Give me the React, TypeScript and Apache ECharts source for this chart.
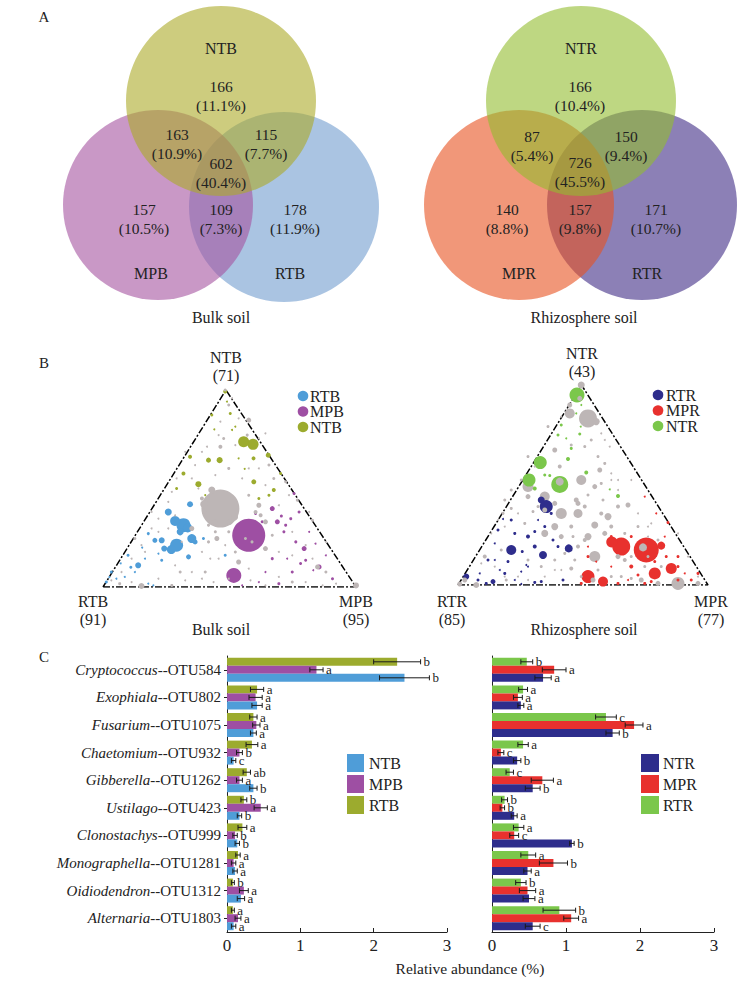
import React, { useEffect, useRef } from 'react';
import * as echarts from 'echarts';

const FONT = "'Liberation Serif', 'Times New Roman', Times, serif";
const INK = '#222';

// ---------- Panel A : Venn ----------
const bulkVennSets = ['NTB', 'MPB', 'RTB'];
const bulkVennCounts = [166, 163, 115, 602, 157, 109, 178];
const bulkVennPcts = ['11.1%', '10.9%', '7.7%', '40.4%', '10.5%', '7.3%', '11.9%'];
const rhizoVennSets = ['NTR', 'MPR', 'RTR'];
const rhizoVennCounts = [166, 87, 150, 726, 140, 157, 171];
const rhizoVennPcts = ['10.4%', '5.4%', '9.4%', '45.5%', '8.8%', '9.8%', '10.7%'];

// ---------- Panel B : ternary ----------
const bulkCorners = ['NTB', 'RTB', 'MPB'];
const bulkCornerN = [71, 91, 95];
const rhizoCorners = ['NTR', 'RTR', 'MPR'];
const rhizoCornerN = [43, 85, 77];
const bulkTriangle = [[0, 0], [100, 0], [48.6, 100], [0, 0]];
const rhizoTriangle = [[0, 0], [100, 0], [49.4, 100], [0, 0]];

// [x%, y%, size]
const bulkPtsRTB = [[31.8,31.4,14],[28.5,33.5,10],[33.5,30.0,9],[29.1,21.2,13],[27.0,19.0,9],[35.1,24.6,9],[25.8,38.1,7],[34.4,42.0,6],[23.2,23.7,6],[20.5,23.7,5],[24.2,19.5,6],[33.8,15.3,5],[13.9,11.0,6],[36.4,22.9,5],[30.5,28.0,7],[27.8,33.1,4],[17.9,27.1,3],[9.9,16.1,3],[3.3,7.6,3],[1.3,2.5,3],[8.6,5.1,2],[17.9,1.7,2],[19.9,0.8,2],[5.3,4.2,2],[12.6,7.6,2],[23.2,13.6,3],[48.3,16.1,3],[39.7,24.6,3],[16.6,14.4,2],[21.9,16.9,2],[11.0,10.0,3],[15.5,20.0,2],[7.0,12.0,2],[2.5,5.0,2]];
const bulkPtsMPB = [[57.6,26.3,33],[51.7,5.9,15],[66.9,39.8,5],[68.9,33.1,5],[72.2,31.4,3],[76.2,22.9,3],[79.5,19.5,5],[80.1,13.6,3],[85.4,10.2,5],[78.1,11.9,3],[74.8,7.6,3],[69.5,1.7,3],[61.6,2.5,2],[55.0,0.8,2],[90.7,4.2,3],[88.1,16.1,2],[75.5,47.5,3],[77.5,38.1,3],[71.5,28.0,3],[74.2,34.7,3],[62.9,33.1,3],[60.3,37.3,3],[81.5,28.0,2],[66.9,14.4,3],[72.8,14.4,2],[64.2,7.6,2],[83.1,8.5,2],[70.5,36.0,3],[84.0,22.0,2]];
const bulkPtsNTB = [[55.6,73.7,11],[59.3,72.4,11],[46.1,64.4,6],[41.7,64.4,5],[37.7,52.2,6],[34.4,66.1,4],[31.8,57.6,4],[59.5,65.3,4],[59.6,53.4,5],[67.5,49.2,4],[65.6,46.6,3],[65.3,66.9,5],[70.2,57.6,3],[48.3,99.2,4],[50.3,88.1,3],[53.6,65.3,2],[43.0,87.3,3],[51.0,79.7,2],[52.3,81.4,2],[49.0,94.1,2],[29.1,50.0,3],[40.4,46.6,2],[61.6,44.9,3],[44.0,80.0,2],[56.0,60.0,2]];
const bulkPtsOther = [[46.4,39.8,38],[40.0,42.0,8],[52.0,35.5,7],[44.0,33.0,6],[50.0,33.0,6],[100,0.8,6],[15.2,0.5,6],[6.6,1.7,3],[57.6,84.7,5],[48.3,100,3],[46.4,71.2,4],[43.0,49.2,7],[39.1,44.9,4],[45.0,24.6,5],[53.6,12.7,5],[64.2,19.5,5],[64.2,33.1,5],[60.3,38.1,4],[65.6,61.9,3],[72.2,53.4,3],[82.8,33.9,3],[84.8,10.2,5],[66.9,26.3,3],[12.6,24.6,3],[35.1,29.7,5],[41.7,22.9,3],[30.5,7.6,3],[27.2,0.8,3],[39.1,4.2,2],[49.7,28.0,3],[56.3,24.6,3],[58.9,22.9,3],[52.3,17.8,3],[74.8,2.5,3],[86.8,0.8,2],[88.1,7.6,3],[32.5,68.6,2],[39.1,68.6,2],[49.7,92.4,3],[45.7,77.1,2],[27.2,48.3,2],[21.9,34.7,2],[15.2,21.2,2],[69.5,41.5,2],[74.8,28.0,2],[80.1,21.2,2],[28.5,11.0,2],[42.4,14.4,2],[57.6,9.3,2],[51.0,44.9,3],[55.0,55.1,2],[61.6,60.2,2],[44.4,56.8,2],[35.1,7.6,2],[64.2,0.8,2],[52.3,72.0,2],[64.2,78.0,2],[19.2,29.7,2],[40.4,7.6,3],
  [51.0,95.8,2],[46.4,83.9,2],[53.6,85.6,2],[57.0,77.1,3],[61.6,75.4,2],[47.7,75.4,3],[41.1,71.2,2],[36.4,61.9,2],[49.7,60.2,3],[57.6,60.2,2],[67.5,55.1,3],[64.2,51.7,2],[73.5,46.6,2],[76.8,44.1,3],[57.6,46.6,3],[61.6,41.5,5],[62.3,36.4,4],[25.8,29.7,2],[21.9,28.0,2],[16.6,17.8,2],[11.3,14.4,2],[7.3,7.6,2],[3.3,3.4,2],[11.3,2.5,2],[21.9,4.2,2],[32.5,3.4,2],[43.7,2.5,2],[49.7,4.2,2],[58.3,3.4,2],[69.5,5.1,2],[80.1,2.5,2],[92.1,1.7,2],[88.1,22.9,2],[81.5,38.1,2],[82.8,14.4,2],[69.5,17.8,2],[74.8,16.1,2],[45.7,14.4,2],[39.1,17.8,2],[31.1,22.9,2],[41.7,31.4,3],[44.4,28.0,3],[48.3,21.2,2],[40.4,38.1,3],[37.7,50.0,2],[35.1,55.1,2],[29.1,55.1,2],[25.8,43.2,2],[19.2,38.1,2],[28.5,36.4,2]];

const rhizoPtsRTR = [[35.3,39.2,13],[33.3,42.5,7],[21.3,17.5,10],[34.0,15.0,8],[44.3,18.3,8],[28.0,24.2,4],[25.7,16.7,3],[30.7,19.2,4],[3.3,4.2,6],[14.0,1.7,5],[11.3,0.8,3],[33.3,1.7,3],[30.7,1.3,3],[25.3,0.5,2],[21.3,32.5,3],[16.0,27.5,3],[14.7,20.8,2],[20.0,11.7,3],[12.0,12.5,3],[16.7,7.5,2],[27.3,10.0,2],[38.0,22.5,3],[30.7,26.7,3],[42.0,2.5,3],[37.3,35.8,3],[8.0,2.5,3],[8.7,5.8,2],[32.0,32.5,2],[25.3,6.7,2],[22.7,25.8,3],[14.7,12.5,2],[18.7,5.8,3],[22.7,2.5,2],[28.0,9.2,2],[34.7,29.2,3],[40.0,19.2,3],[18.0,33.0,2]];
const rhizoPtsMPR = [[75.3,17.5,25],[65.3,19.2,18],[61.5,21.5,11],[81.3,19.7,8],[52.0,4.2,13],[58.0,1.7,10],[78.7,5.8,12],[85.3,8.3,11],[69.3,9.2,4],[72.0,5.0,3],[78.7,11.7,3],[83.3,14.2,3],[88.0,14.2,3],[96.0,5.8,3],[93.3,2.5,3],[84.0,31.2,3],[74.7,44.2,2],[79.3,35.8,2],[52.0,14.2,3],[49.3,0.8,3],[64.0,0.8,3],[74.7,0.8,3],[88.0,2.5,3],[82.7,24.2,2],[68.0,2.5,2],[61.3,9.2,2],[55.3,11.7,2],[77.3,1.7,3],[61.3,24.2,3],[69.3,24.2,3],[88.0,9.2,3],[90.7,5.8,2],[52.0,19.2,2]];
const rhizoPtsNTR = [[47.6,95.0,15],[32.9,61.2,13],[28.4,52.5,13],[40.7,50.3,17],[30.7,48.3,4],[44.0,63.0,4],[34.7,55.0,3],[36.7,54.7,3],[51.3,56.2,4],[64.0,44.5,4],[60.7,47.8,2],[45.3,68.3,3],[48.7,75.5,3],[41.3,80.0,3],[40.0,75.0,3],[49.1,79.2,2],[47.3,85.8,2],[43.3,73.3,2],[49.3,90.0,2]];
const rhizoPtsOther = [[49.3,100,7],[52.0,83.3,18],[44.7,85.8,10],[55.3,81.7,7],[44.7,90.0,5],[48.7,93.3,5],[38.7,67.5,5],[40.7,51.7,8],[28.0,49.2,11],[34.7,44.2,10],[41.3,35.8,11],[48.0,35.8,9],[49.3,52.5,10],[56.7,57.5,5],[60.0,34.2,7],[64.0,39.2,4],[68.0,40.0,5],[54.7,30.0,7],[52.0,24.2,7],[38.7,29.2,7],[34.7,25.8,7],[41.3,24.2,5],[54.7,14.2,11],[64.0,14.2,5],[45.3,8.3,4],[33.3,9.2,3],[19.3,2.5,3],[7.3,0,6],[0.7,0.5,5],[2.7,2.5,5],[10.7,14.2,4],[17.3,17.5,3],[18.0,35.8,3],[21.3,38.3,3],[26.7,30.8,3],[88.0,0.8,13],[96.0,0.8,5],[80.0,0.8,5],[73.3,2.5,5],[74.0,18.8,8],[54.0,2.5,5],[76.0,14.2,3],[69.3,14.2,3],[58.0,42.5,3],[52.0,45.0,3],[56.0,64.2,3],[60.7,69.2,2],[50.7,69.2,3],[45.3,70.0,3],[34.7,37.5,5],[30.0,36.7,3],[46.0,24.2,3],[28.0,12.5,3],[38.7,12.5,3],[28.0,64.2,3],[40.7,59.2,4],[36.0,79.2,3],[66.7,25.8,3],[72.0,29.2,3],[48.0,40.8,5],[45.3,29.2,4],[81.3,9.2,3],[65.3,4.2,3],[18.7,4.2,2],[16.0,32.5,2],[58.7,72.5,2],[61.3,52.5,2],[76.0,24.2,2],[41.3,7.5,2],
  [41.3,84.2,2],[57.3,75.8,2],[53.3,72.5,3],[58.7,60.8,3],[61.3,55.8,2],[64.0,52.5,2],[54.7,49.2,5],[57.3,50.8,3],[64.0,47.5,2],[69.3,52.5,2],[47.3,42.5,5],[50.7,39.2,4],[57.3,35.8,4],[61.3,29.2,4],[58.7,25.8,5],[50.7,22.5,4],[48.0,19.2,4],[42.7,15.8,3],[38.7,7.5,2],[34.7,4.2,2],[28.0,2.5,2],[24.0,4.2,2],[14.7,9.2,2],[9.3,10.8,2],[13.3,25.8,2],[18.7,29.2,2],[24.0,35.8,2],[28.0,44.2,5],[25.3,52.5,3],[30.7,59.2,2],[38.7,40.8,5],[32.0,39.2,3],[77.3,30.8,2],[88.0,25.8,2],[92.0,14.2,2],[96.0,4.2,2],[69.3,3.3,3],[61.3,4.2,3],[49.3,4.2,3],[46.7,12.5,3],[56.0,7.5,3],[74.7,9.2,3],[66.7,12.5,4],[80.0,22.5,3],[76.0,29.2,2],[72.0,35.8,2],[21.3,47.5,3],[18.7,42.5,3]];

// ---------- Panel C : bars ----------
const categories = ['Cryptococcus--OTU584', 'Exophiala--OTU802', 'Fusarium--OTU1075', 'Chaetomium--OTU932', 'Gibberella--OTU1262', 'Ustilago--OTU423', 'Clonostachys--OTU999', 'Monographella--OTU1281', 'Oidiodendron--OTU1312', 'Alternaria--OTU1803'];
const xTicks = [0, 1, 2, 3];
const xTitle = 'Relative abundance (%)';

const bulkRTB = [2.32, 0.41, 0.36, 0.34, 0.27, 0.23, 0.21, 0.15, 0.08, 0.08];
const bulkRTBErr = [0.32, 0.09, 0.05, 0.08, 0.05, 0.04, 0.06, 0.03, 0.02, 0.02];
const bulkRTBSig = ['b', 'a', 'a', 'a', 'ab', 'b', 'a', 'a', 'b', 'a'];
const bulkMPB = [1.22, 0.39, 0.40, 0.17, 0.17, 0.46, 0.11, 0.09, 0.23, 0.15];
const bulkMPBErr = [0.09, 0.09, 0.05, 0.04, 0.04, 0.09, 0.03, 0.03, 0.06, 0.04];
const bulkMPBSig = ['a', 'a', 'a', 'b', 'a', 'a', 'b', 'a', 'a', 'a'];
const bulkNTB = [2.42, 0.41, 0.36, 0.09, 0.36, 0.17, 0.14, 0.11, 0.19, 0.09];
const bulkNTBErr = [0.34, 0.07, 0.04, 0.03, 0.05, 0.03, 0.03, 0.03, 0.05, 0.03];
const bulkNTBSig = ['b', 'a', 'a', 'c', 'b', 'b', 'b', 'a', 'a', 'a'];

const rhizoRTR = [0.47, 0.42, 1.54, 0.42, 0.24, 0.17, 0.36, 0.49, 0.39, 0.91];
const rhizoRTRErr = [0.08, 0.06, 0.14, 0.07, 0.05, 0.04, 0.07, 0.10, 0.07, 0.22];
const rhizoRTRSig = ['b', 'a', 'c', 'a', 'c', 'b', 'a', 'a', 'b', 'b'];
const rhizoMPR = [0.84, 0.35, 1.92, 0.12, 0.68, 0.14, 0.30, 0.83, 0.48, 1.07];
const rhizoMPRErr = [0.16, 0.06, 0.12, 0.04, 0.15, 0.03, 0.06, 0.19, 0.11, 0.10];
const rhizoMPRSig = ['a', 'a', 'a', 'c', 'a', 'b', 'c', 'b', 'a', 'a'];
const rhizoNTR = [0.69, 0.39, 1.63, 0.34, 0.55, 0.30, 1.08, 0.48, 0.50, 0.55];
const rhizoNTRErr = [0.11, 0.04, 0.09, 0.05, 0.10, 0.04, 0.03, 0.05, 0.08, 0.10];
const rhizoNTRSig = ['a', 'a', 'b', 'b', 'b', 'a', 'b', 'a', 'a', 'c'];

// ---------- colours ----------
const C_BLUE = '#4f9dd8';
const C_PURPLE = '#9e4fa3';
const C_OLIVE = '#9cab2e';
const C_NAVY = '#2e2d8c';
const C_RED = '#e8312e';
const C_GREEN = '#7bc74b';
const C_GRAY = '#bdb6b6';

const BAR_W = 8;

function txt(text: string, x: number, y: number, size = 15, align = 'center', extra: any = {}) {
  return {
    type: 'text', x, y, z: 50,
    style: { text, fontSize: size, fontFamily: FONT, fill: INK, align, verticalAlign: 'middle', ...extra },
  };
}

function vennGraphics(sets: string[], counts: number[], pcts: string[], circles: number[][], fills: string[], regionPos: number[][], setLabelPos: number[][], title: string, titlePos: number[]) {
  const g: any[] = [];
  [2, 1, 0].forEach((i) => {
    g.push({ type: 'circle', z: 1, shape: { cx: circles[i][0], cy: circles[i][1], r: circles[i][2] }, style: { fill: fills[i] } });
  });
  sets.forEach((s, i) => g.push(txt(s, setLabelPos[i][0], setLabelPos[i][1], 16)));
  counts.forEach((c, i) => {
    g.push(txt(String(c), regionPos[i][0], regionPos[i][1], 15.5));
    g.push(txt('(' + pcts[i] + ')', regionPos[i][0], regionPos[i][1] + 19, 15.5));
  });
  g.push(txt(title, titlePos[0], titlePos[1], 16));
  return g;
}

function errSeries(vals: number[], errs: number[], sig: string[], k: number, axis: number) {
  return {
    type: 'custom', xAxisIndex: axis, yAxisIndex: axis, z: 5, clip: false, silent: true,
    data: vals.map((v, i) => [v, i, errs[i]]),
    renderItem: (params: any, api: any) => {
      const v = api.value(0), c = api.value(1), e = api.value(2);
      const a = api.coord([v - e, c]);
      const b = api.coord([v + e, c]);
      const y = a[1] + (k - 1) * BAR_W;
      const h = 2.5;
      const st = { stroke: '#1a1a1a', lineWidth: 1 };
      return {
        type: 'group',
        children: [
          { type: 'line', shape: { x1: a[0], y1: y, x2: b[0], y2: y }, style: st },
          { type: 'line', shape: { x1: a[0], y1: y - h, x2: a[0], y2: y + h }, style: st },
          { type: 'line', shape: { x1: b[0], y1: y - h, x2: b[0], y2: y + h }, style: st },
          { type: 'text', x: b[0] + 3, y: y, style: { text: sig[params.dataIndex], fontSize: 13, fontFamily: FONT, fill: INK, align: 'left', verticalAlign: 'middle' } },
        ],
      };
    },
  };
}

function scatter(name: string, data: number[][], color: string, axis: number, z: number) {
  return {
    type: 'scatter', name, xAxisIndex: axis, yAxisIndex: axis, data, z, silent: true,
    symbolSize: (d: number[]) => d[2],
    itemStyle: { color, opacity: 1 },
  };
}

export default function App() {
  const ref = useRef<HTMLDivElement>(null);
  useEffect(() => {
    if (!ref.current) return;
    const chart = echarts.init(ref.current, undefined, { renderer: 'svg' });

    const graphic: any[] = [];
    graphic.push(txt('A', 44, 17), txt('B', 44, 363), txt('C', 44, 657));

    graphic.push(...vennGraphics(bulkVennSets, bulkVennCounts, bulkVennPcts,
      [[221, 101, 95], [158, 205, 95], [284, 207, 95]],
      ['rgba(172,170,40,0.6)', 'rgba(165,83,160,0.6)', 'rgba(113,157,207,0.6)'],
      [[221, 86], [177, 134], [266, 134], [221, 163], [144, 209], [221, 209], [295, 209]],
      [[221, 48], [151, 273], [290, 273]], 'Bulk soil', [221, 317]));
    graphic.push(...vennGraphics(rhizoVennSets, rhizoVennCounts, rhizoVennPcts,
      [[581, 101, 95], [519, 205, 95], [642, 205, 95]],
      ['rgba(147,188,47,0.6)', 'rgba(232,82,32,0.6)', 'rgba(63,43,133,0.6)'],
      [[580, 86], [532, 136], [626, 136], [580, 162], [507, 209], [580, 209], [656, 209]],
      [[581, 48], [519, 273], [647, 273]], 'Rhizosphere soil', [584, 317]));

    const bPos = [[226, 357], [93, 601], [356, 601]];
    bulkCorners.forEach((s, i) => {
      graphic.push(txt(s, bPos[i][0], bPos[i][1], 16), txt('(' + bulkCornerN[i] + ')', bPos[i][0], bPos[i][1] + 18, 16));
    });
    const rPos = [[582, 353], [452, 601], [711, 601]];
    rhizoCorners.forEach((s, i) => {
      graphic.push(txt(s, rPos[i][0], rPos[i][1], 16), txt('(' + rhizoCornerN[i] + ')', rPos[i][0], rPos[i][1] + 18, 16));
    });
    graphic.push(txt('Bulk soil', 221, 629, 16), txt('Rhizosphere soil', 584, 629, 16));

    const tLegB = [['RTB', C_BLUE], ['MPB', C_PURPLE], ['NTB', C_OLIVE]];
    tLegB.forEach((l, i) => {
      graphic.push({ type: 'circle', z: 40, shape: { cx: 303, cy: 396 + i * 15.5, r: 5.3 }, style: { fill: l[1] } });
      graphic.push(txt(l[0], 310, 396 + i * 15.5, 16, 'left'));
    });
    const tLegR = [['RTR', C_NAVY], ['MPR', C_RED], ['NTR', C_GREEN]];
    tLegR.forEach((l, i) => {
      graphic.push({ type: 'circle', z: 40, shape: { cx: 658, cy: 395 + i * 15.5, r: 5.3 }, style: { fill: l[1] } });
      graphic.push(txt(l[0], 666, 395 + i * 15.5, 16, 'left'));
    });

    const bLegB = [['NTB', C_BLUE], ['MPB', C_PURPLE], ['RTB', C_OLIVE]];
    bLegB.forEach((l, i) => {
      graphic.push({ type: 'rect', z: 40, shape: { x: 347, y: 754 + i * 21, width: 17, height: 18 }, style: { fill: l[1] } });
      graphic.push(txt(l[0], 369, 763 + i * 21, 16, 'left'));
    });
    const bLegR = [['NTR', C_NAVY], ['MPR', C_RED], ['RTR', C_GREEN]];
    bLegR.forEach((l, i) => {
      graphic.push({ type: 'rect', z: 40, shape: { x: 641, y: 754 + i * 21, width: 18, height: 18 }, style: { fill: l[1] } });
      graphic.push(txt(l[0], 663, 763 + i * 21, 16, 'left'));
    });
    graphic.push(txt(xTitle, 470, 968, 15.5));

    const hiddenAxis = (i: number) => ({ type: 'value', gridIndex: i, min: 0, max: 100, show: false });
    const barX = (i: number) => ({
      type: 'value', gridIndex: i, min: 0, max: 3, interval: 1,
      axisLine: { show: true, lineStyle: { color: '#222', width: 1 } },
      axisTick: { show: true, inside: true, length: 4, lineStyle: { color: '#222' } },
      splitLine: { show: false },
      axisLabel: { color: INK, fontSize: 17, fontFamily: FONT, margin: 5, formatter: (v: number) => (xTicks.includes(v) ? String(v) : '') },
    });
    const barY = (i: number, labels: boolean) => ({
      type: 'category', gridIndex: i, data: categories, inverse: true,
      axisLine: { show: true, lineStyle: { color: '#222', width: 1 } },
      axisTick: { show: labels, alignWithLabel: true, length: 3, lineStyle: { color: '#222' } },
      axisLabel: labels ? {
        margin: 6,
        formatter: (v: string) => { const p = v.split('--'); return '{i|' + p[0] + '}{n|--' + p[1] + '}'; },
        rich: {
          i: { fontStyle: 'italic', fontSize: 15, fontFamily: FONT, color: INK },
          n: { fontSize: 15, fontFamily: FONT, color: INK },
        },
      } : { show: false },
    });

    const bar = (name: string, data: number[], color: string, axis: number) => ({
      type: 'bar', name, xAxisIndex: axis, yAxisIndex: axis, data, barWidth: BAR_W, barGap: '0%', silent: true,
      itemStyle: { color },
    });

    const triLine = (data: number[][], axis: number) => ({
      type: 'line', xAxisIndex: axis, yAxisIndex: axis, data, symbol: 'none', z: 1, silent: true,
      lineStyle: { color: '#000', width: 1.5, type: [7, 2, 2, 2] },
    });

    const option: any = {
      animation: false,
      backgroundColor: '#fff',
      textStyle: { fontFamily: FONT },
      grid: [
        { left: 103, top: 390, width: 253, height: 197 },
        { left: 458, top: 385, width: 250, height: 200 },
        { left: 227, top: 656, width: 220, height: 276 },
        { left: 492, top: 656, width: 222, height: 276 },
      ],
      xAxis: [hiddenAxis(0), hiddenAxis(1), barX(2), barX(3)],
      yAxis: [hiddenAxis(0), hiddenAxis(1), barY(2, true), barY(3, false)],
      graphic,
      series: [
        triLine(bulkTriangle, 0),
        triLine(rhizoTriangle, 1),
        scatter('bulk-other-large', bulkPtsOther.filter((p) => p[2] >= 9), C_GRAY, 0, 2),
        scatter('RTB', bulkPtsRTB, C_BLUE, 0, 3),
        scatter('MPB', bulkPtsMPB, C_PURPLE, 0, 3),
        scatter('NTB', bulkPtsNTB, C_OLIVE, 0, 3),
        scatter('bulk-other', bulkPtsOther.filter((p) => p[2] < 9), C_GRAY, 0, 4),
        scatter('rhizo-other-large', rhizoPtsOther.filter((p) => p[2] >= 9), C_GRAY, 1, 2),
        scatter('RTR', rhizoPtsRTR, C_NAVY, 1, 3),
        scatter('MPR', rhizoPtsMPR, C_RED, 1, 3),
        scatter('NTR', rhizoPtsNTR, C_GREEN, 1, 3),
        scatter('rhizo-other', rhizoPtsOther.filter((p) => p[2] < 9), C_GRAY, 1, 4),
        bar('RTB', bulkRTB, C_OLIVE, 2),
        bar('MPB', bulkMPB, C_PURPLE, 2),
        bar('NTB', bulkNTB, C_BLUE, 2),
        errSeries(bulkRTB, bulkRTBErr, bulkRTBSig, 0, 2),
        errSeries(bulkMPB, bulkMPBErr, bulkMPBSig, 1, 2),
        errSeries(bulkNTB, bulkNTBErr, bulkNTBSig, 2, 2),
        bar('RTR', rhizoRTR, C_GREEN, 3),
        bar('MPR', rhizoMPR, C_RED, 3),
        bar('NTR', rhizoNTR, C_NAVY, 3),
        errSeries(rhizoRTR, rhizoRTRErr, rhizoRTRSig, 0, 3),
        errSeries(rhizoMPR, rhizoMPRErr, rhizoMPRSig, 1, 3),
        errSeries(rhizoNTR, rhizoNTRErr, rhizoNTRSig, 2, 3),
      ],
    };
    chart.setOption(option);
    return () => chart.dispose();
  }, []);
  return <div ref={ref} style={{ position: 'absolute', left: 0, top: 0, width: 754, height: 992 }} />;
}
